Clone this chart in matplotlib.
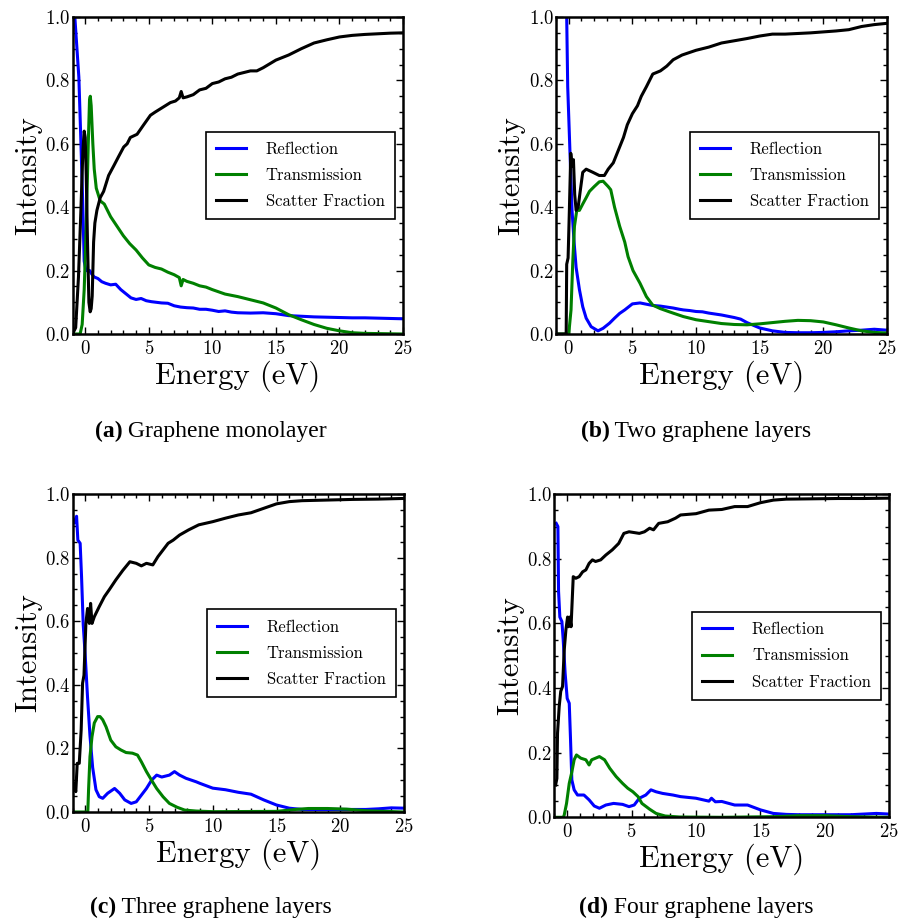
import matplotlib
matplotlib.use("Agg")
import matplotlib.pyplot as plt
from matplotlib.ticker import MultipleLocator

# ---- (a) graphene monolayer ----
a_refl_e = [-0.95, -0.8, -0.65, -0.5, -0.35, -0.2, -0.08, 0.05, 0.2, 0.35, 0.5, 0.7, 1.0, 1.3, 1.6, 2.0, 2.4, 2.8, 3.2, 3.6,
            4.0, 4.4, 4.8, 5.2, 5.6, 6.0, 6.5, 7.0, 7.5, 8.0, 8.5, 9.0, 9.5, 10.0, 10.5, 11.0, 11.5, 12.0, 13.0, 14.0,
            15.0, 16.0, 17.0, 18.0, 19.0, 20.0, 21.0, 22.0, 23.0, 24.0, 25.0]
a_refl = [1.08, 0.99, 0.9, 0.81, 0.62, 0.42, 0.23, 0.2, 0.2, 0.2, 0.19, 0.18, 0.175, 0.165, 0.16, 0.155, 0.157, 0.14, 0.127, 0.114,
          0.109, 0.112, 0.105, 0.102, 0.1, 0.098, 0.097, 0.089, 0.085, 0.083, 0.082, 0.078, 0.078, 0.075, 0.071, 0.073, 0.069, 0.067, 0.066, 0.067,
          0.064, 0.058, 0.056, 0.054, 0.053, 0.052, 0.051, 0.051, 0.05, 0.049, 0.048]
a_trans_e = [-1.0, -0.4, -0.24, -0.08, 0.08, 0.24, 0.34, 0.4, 0.47, 0.6, 0.71, 0.87, 1.18, 1.5, 2.0, 2.5, 3.0, 3.5, 4.0, 4.5,
             5.0, 5.5, 6.0, 6.5, 7.0, 7.4, 7.55, 7.7, 8.0, 8.5, 9.0, 9.5, 10.0, 11.0, 12.0, 13.0, 14.0, 15.0, 16.0, 17.0,
             18.0, 19.0, 20.0, 21.0, 22.0, 25.0]
a_trans = [0, 0, 0.03, 0.14, 0.34, 0.6, 0.74, 0.75, 0.72, 0.6, 0.52, 0.46, 0.42, 0.41, 0.37, 0.34, 0.31, 0.285, 0.265, 0.24,
           0.218, 0.21, 0.205, 0.195, 0.187, 0.178, 0.152, 0.172, 0.166, 0.16, 0.152, 0.148, 0.14, 0.126, 0.118, 0.108, 0.098, 0.082, 0.061, 0.045,
           0.03, 0.018, 0.01, 0.004, 0.002, 0.0]
a_scat_e = [-1.0, -0.75, -0.53, -0.34, -0.18, -0.08, 0.0, 0.08, 0.18, 0.29, 0.39, 0.47, 0.55, 0.66, 0.76, 0.92, 1.18, 1.45, 1.84, 2.24,
            2.63, 3.03, 3.3, 3.55, 4.08, 4.6, 5.13, 5.5, 5.9, 6.3, 6.7, 7.1, 7.4, 7.55, 7.7, 8.0, 8.5, 9.0, 9.5, 10.0,
            10.5, 11.0, 11.5, 12.0, 12.5, 13.0, 13.5, 14.0, 15.0, 16.0, 17.0, 18.0, 19.0, 20.0, 21.0, 22.0, 23.0, 24.0, 25.0]
a_scat = [0.0, 0.02, 0.18, 0.39, 0.58, 0.64, 0.62, 0.5, 0.29, 0.1, 0.07, 0.08, 0.12, 0.29, 0.35, 0.39, 0.43, 0.45, 0.5, 0.53,
          0.56, 0.59, 0.6, 0.62, 0.63, 0.66, 0.69, 0.70, 0.71, 0.72, 0.73, 0.735, 0.745, 0.765, 0.745, 0.748, 0.755, 0.77, 0.775, 0.79,
          0.795, 0.805, 0.81, 0.82, 0.825, 0.83, 0.83, 0.84, 0.864, 0.88, 0.9, 0.918, 0.928, 0.937, 0.942, 0.945, 0.947, 0.949, 0.95]

# ---- (b) two layers ----
b_refl_e = [-0.2, -0.16, -0.08, 0.1, 0.26, 0.42, 0.58, 0.84, 1.1, 1.37, 1.76, 2.3, 2.7, 3.2, 3.6, 4.0, 4.4, 5.0, 5.6, 6.1,
            6.6, 7.2, 7.7, 8.2, 8.7, 9.0, 9.5, 10.0, 10.5, 11.0, 11.5, 12.0, 12.5, 13.0, 13.5, 14.0, 15.0, 16.0, 17.0, 18.0,
            19.0, 20.0, 21.0, 22.0, 23.0, 24.0, 25.0]
b_refl = [1.1, 1.0, 0.78, 0.57, 0.39, 0.29, 0.21, 0.14, 0.086, 0.05, 0.023, 0.01, 0.018, 0.034, 0.05, 0.065, 0.076, 0.095, 0.098, 0.094,
          0.09, 0.088, 0.085, 0.082, 0.078, 0.076, 0.074, 0.071, 0.07, 0.066, 0.063, 0.06, 0.056, 0.052, 0.047, 0.036, 0.019, 0.01, 0.005, 0.004,
          0.004, 0.005, 0.007, 0.01, 0.012, 0.015, 0.012]
b_trans_e = [-1.0, 0.0, 0.18, 0.32, 0.45, 0.63, 0.84, 1.1, 1.37, 1.63, 2.0, 2.4, 2.7, 3.1, 3.3, 3.6, 4.0, 4.4, 4.66, 5.05,
             5.6, 6.1, 6.6, 7.2, 7.9, 9.0, 10.0, 11.0, 12.0, 13.0, 14.0, 15.0, 16.0, 17.0, 18.0, 19.0, 20.0, 21.0, 22.0, 23.0,
             24.0, 25.0]
b_trans = [0, 0, 0.076, 0.23, 0.34, 0.39, 0.39, 0.41, 0.43, 0.45, 0.465, 0.48, 0.482, 0.465, 0.455, 0.4, 0.34, 0.29, 0.244, 0.2,
           0.16, 0.118, 0.091, 0.08, 0.07, 0.055, 0.045, 0.039, 0.033, 0.03, 0.029, 0.032, 0.036, 0.04, 0.043, 0.042, 0.038, 0.029, 0.019, 0.01,
           0.005, 0.003]
b_scat_e = [-1.0, -0.2, -0.16, -0.05, 0.05, 0.16, 0.26, 0.37, 0.47, 0.58, 0.74, 0.9, 1.1, 1.37, 1.9, 2.4, 2.8, 3.1, 3.5, 3.9,
            4.3, 4.6, 5.0, 5.4, 5.7, 6.1, 6.6, 7.2, 7.7, 8.2, 8.9, 10.0, 11.0, 12.0, 13.0, 14.0, 15.0, 16.0, 17.0, 18.0,
            19.0, 20.0, 21.0, 22.0, 23.0, 24.0, 25.0]
b_scat = [0, 0, 0.22, 0.24, 0.39, 0.57, 0.53, 0.55, 0.44, 0.39, 0.4, 0.45, 0.51, 0.52, 0.51, 0.5, 0.5, 0.52, 0.54, 0.58,
          0.62, 0.66, 0.695, 0.72, 0.75, 0.78, 0.82, 0.83, 0.845, 0.865, 0.88, 0.895, 0.905, 0.918, 0.925, 0.932, 0.94, 0.946, 0.946, 0.948,
          0.95, 0.953, 0.956, 0.96, 0.97, 0.976, 0.98]

# ---- (c) three layers ----
c_refl_e = [-0.87, -0.68, -0.58, -0.4, -0.29, -0.16, 0.0, 0.18, 0.37, 0.58, 0.84, 1.1, 1.37, 1.76, 2.3, 2.7, 3.1, 3.6, 4.0, 4.4,
            4.8, 5.2, 5.6, 6.0, 6.6, 7.0, 7.4, 7.9, 8.7, 9.0, 10.0, 11.0, 12.0, 13.0, 14.0, 15.0, 16.0, 17.0, 18.0, 19.0,
            20.0, 21.0, 22.0, 23.0, 24.0, 25.0]
c_refl = [0.91, 0.93, 0.855, 0.845, 0.74, 0.59, 0.49, 0.36, 0.24, 0.14, 0.07, 0.048, 0.043, 0.059, 0.074, 0.059, 0.038, 0.027, 0.032, 0.053,
          0.074, 0.1, 0.116, 0.11, 0.116, 0.127, 0.116, 0.106, 0.095, 0.09, 0.075, 0.07, 0.062, 0.056, 0.038, 0.022, 0.012, 0.008, 0.008, 0.008,
          0.008, 0.008, 0.008, 0.01, 0.013, 0.012]
c_trans_e = [-1.0, 0.2, 0.26, 0.37, 0.53, 0.71, 0.97, 1.16, 1.37, 1.63, 2.0, 2.4, 2.8, 3.2, 3.7, 4.1, 4.4, 4.8, 5.2, 5.6,
             6.1, 6.6, 7.2, 7.8, 8.7, 10.0, 15.0, 16.5, 17.5, 19.0, 20.5, 22.0, 25.0]
c_trans = [0, 0, 0.07, 0.174, 0.237, 0.28, 0.3, 0.3, 0.29, 0.268, 0.226, 0.205, 0.195, 0.187, 0.185, 0.179, 0.158, 0.127, 0.1, 0.074,
           0.048, 0.027, 0.015, 0.006, 0.003, 0.001, 0.002, 0.008, 0.011, 0.011, 0.009, 0.004, 0.0]
c_scat_e = [-0.9, -0.74, -0.63, -0.47, -0.32, -0.21, -0.1, 0.05, 0.18, 0.32, 0.42, 0.53, 0.71, 1.1, 1.5, 1.9, 2.4, 2.95, 3.5, 4.0,
            4.4, 4.8, 5.3, 5.7, 6.1, 6.5, 6.9, 7.4, 8.1, 8.9, 10.0, 11.0, 12.0, 13.0, 14.0, 15.0, 16.0, 17.0, 19.0, 21.0,
            23.0, 25.0]
c_scat = [0.09, 0.064, 0.153, 0.153, 0.258, 0.405, 0.43, 0.593, 0.64, 0.593, 0.656, 0.593, 0.614, 0.646, 0.677, 0.7, 0.73, 0.76, 0.787, 0.782,
          0.774, 0.782, 0.777, 0.803, 0.824, 0.845, 0.855, 0.871, 0.887, 0.903, 0.913, 0.924, 0.934, 0.941, 0.955, 0.969, 0.976, 0.979, 0.981, 0.983,
          0.984, 0.986]

# ---- (d) four layers ----
d_refl_e = [-0.85, -0.72, -0.67, -0.57, -0.41, -0.31, -0.16, 0.0, 0.16, 0.26, 0.36, 0.54, 0.8, 1.3, 1.7, 2.1, 2.5, 3.0, 3.6, 4.3,
            4.8, 5.2, 5.6, 6.1, 6.5, 6.9, 7.4, 8.2, 8.8, 10.0, 11.0, 11.2, 11.5, 12.0, 13.0, 14.0, 15.0, 16.0, 17.0, 18.0,
            20.0, 22.0, 23.0, 24.0, 25.0]
d_refl = [0.91, 0.9, 0.7, 0.62, 0.606, 0.55, 0.446, 0.368, 0.353, 0.24, 0.116, 0.085, 0.069, 0.069, 0.054, 0.035, 0.028, 0.038, 0.043, 0.04,
          0.033, 0.038, 0.059, 0.069, 0.085, 0.079, 0.074, 0.069, 0.064, 0.059, 0.05, 0.059, 0.048, 0.049, 0.038, 0.038, 0.023, 0.012, 0.009, 0.008,
          0.008, 0.008, 0.01, 0.012, 0.01]
d_trans_e = [-1.0, -0.3, -0.23, -0.05, 0.16, 0.36, 0.54, 0.72, 1.06, 1.45, 1.7, 1.9, 2.2, 2.5, 2.9, 3.3, 3.8, 4.3, 4.7, 5.1,
             5.5, 5.8, 6.4, 6.9, 7.6, 8.7, 12.0, 16.0, 18.0, 20.0, 22.0, 25.0]
d_trans = [0, 0, 0.007, 0.043, 0.105, 0.14, 0.178, 0.193, 0.183, 0.178, 0.162, 0.178, 0.183, 0.188, 0.178, 0.152, 0.126, 0.105, 0.09, 0.079,
           0.064, 0.043, 0.025, 0.012, 0.004, 0.001, 0.0, 0.002, 0.005, 0.005, 0.002, 0.0]
d_scat_e = [-0.9, -0.8, -0.75, -0.62, -0.5, -0.36, -0.23, -0.1, 0.03, 0.1, 0.2, 0.3, 0.47, 0.67, 0.93, 1.2, 1.45, 1.7, 1.96, 2.2,
            2.6, 3.0, 3.5, 4.0, 4.4, 4.8, 5.6, 6.0, 6.4, 6.7, 7.1, 7.8, 8.4, 8.8, 10.0, 11.0, 12.0, 13.0, 14.0, 15.0,
            16.0, 17.0, 19.0, 21.0, 23.0, 25.0]
d_scat = [0.1, 0.12, 0.26, 0.343, 0.39, 0.405, 0.518, 0.58, 0.62, 0.59, 0.62, 0.59, 0.745, 0.74, 0.745, 0.76, 0.766, 0.786, 0.797, 0.792,
          0.797, 0.812, 0.828, 0.848, 0.879, 0.884, 0.879, 0.884, 0.895, 0.89, 0.91, 0.915, 0.926, 0.936, 0.94, 0.951, 0.953, 0.962, 0.962, 0.974,
          0.982, 0.985, 0.986, 0.987, 0.987, 0.988]

captions = [("(a)", "Graphene monolayer"), ("(b)", "Two graphene layers"),
            ("(c)", "Three graphene layers"), ("(d)", "Four graphene layers")]

plt.rcParams["font.family"] = "serif"
plt.rcParams["font.serif"] = ["cmr10"]
plt.rcParams["mathtext.fontset"] = "cm"
plt.rcParams["axes.formatter.use_mathtext"] = True
plt.rcParams["axes.unicode_minus"] = False

W, H = 898, 919
fig = plt.figure(figsize=(W / 100, H / 100), dpi=100)

# axes boxes in pixels (left, top, right, bottom)
boxes = [(72.5, 17, 403, 334), (556, 17, 887, 334), (72.5, 494, 404, 812), (554.3, 494.3, 889.3, 817.3)]
cap_pos = [(211, 437), (696, 437), (211, 913), (696, 913)]

panels = [
    ((a_refl_e, a_refl), (a_trans_e, a_trans), (a_scat_e, a_scat)),
    ((b_refl_e, b_refl), (b_trans_e, b_trans), (b_scat_e, b_scat)),
    ((c_refl_e, c_refl), (c_trans_e, c_trans), (c_scat_e, c_scat)),
    ((d_refl_e, d_refl), (d_trans_e, d_trans), (d_scat_e, d_scat)),
]

renderer = fig.canvas.get_renderer()

for i, (refl, trans, scat) in enumerate(panels):
    l, t, r, b = boxes[i]
    ax = fig.add_axes([l / W, 1 - b / H, (r - l) / W, (b - t) / H])
    ax.plot(refl[0], refl[1], color="b", lw=2.2, label="Reflection")
    ax.plot(trans[0], trans[1], color="g", lw=2.2, label="Transmission")
    ax.plot(scat[0], scat[1], color="k", lw=2.2, label="Scatter Fraction")
    ax.set_xlim(-1, 25)
    ax.set_ylim(0, 1)
    ax.xaxis.set_major_locator(MultipleLocator(5))
    ax.xaxis.set_minor_locator(MultipleLocator(1))
    ax.yaxis.set_major_locator(MultipleLocator(0.2))
    ax.yaxis.set_minor_locator(MultipleLocator(0.05))
    ax.tick_params(which="both", direction="in", top=True, right=True, labelsize=13.5, width=1.0)
    ax.tick_params(axis="x", pad=4)
    ax.tick_params(axis="y", pad=1.5)
    ax.tick_params(which="major", length=5)
    ax.tick_params(which="minor", length=3)
    for s in ax.spines.values():
        s.set_linewidth(1.8)
    ax.set_xlabel("Energy (eV)", fontsize=22, labelpad=2)
    ax.set_ylabel("Intensity", fontsize=22, labelpad=2)
    leg = ax.legend(loc="center right", fontsize=12, fancybox=False, framealpha=1,
                    edgecolor="k", handlelength=1.8, handletextpad=1.2, labelspacing=0.65,
                    borderpad=0.6)
    leg.get_frame().set_linewidth(1.2)

    # caption with bold tag
    tag, rest = captions[i]
    cx, cy = cap_pos[i]
    t1 = fig.text(0, 0, tag, fontsize=17, fontweight="bold", family="Liberation Serif", va="baseline")
    t2 = fig.text(0, 0, " " + rest, fontsize=17, family="Liberation Serif", va="baseline")
    w1 = t1.get_window_extent(renderer).width
    w2 = t2.get_window_extent(renderer).width
    x0 = cx - (w1 + w2) / 2
    t1.set_position((x0 / W, 1 - cy / H))
    t2.set_position(((x0 + w1) / W, 1 - cy / H))

fig.savefig("out.png", dpi=100)
